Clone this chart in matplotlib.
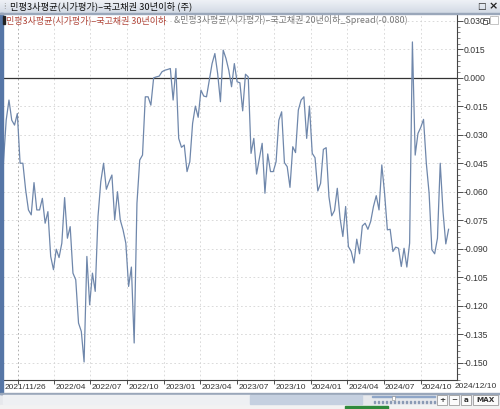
import numpy as np
import pandas as pd
import matplotlib
matplotlib.use('Agg')
from matplotlib import pyplot as plt
from matplotlib.patches import Rectangle
from matplotlib.transforms import ScaledTranslation

plt.rcParams['axes.unicode_minus'] = False
KR = ['Noto Sans CJK KR', 'DejaVu Sans']

# spread series (weekly), 2021/11/26 .. 2024/12/10
first_date = '2021-11-26'
last_date = '2024-12-10'
spread = [
    -0.0450, -0.0223, -0.0117, -0.0223, -0.0249, -0.0188, -0.0450, -0.0450, -0.0591, -0.0696,
    -0.0722, -0.0552, -0.0696, -0.0696, -0.0635, -0.0766, -0.0705, -0.0941, -0.1011, -0.0903,
    -0.0947, -0.0871, -0.0631, -0.0845, -0.0784, -0.1029, -0.1064, -0.1292, -0.1336, -0.1497,
    -0.0941, -0.1196, -0.1029, -0.1125, -0.0731, -0.0547, -0.0450, -0.0587, -0.0547, -0.0512,
    -0.0749, -0.0600, -0.0749, -0.0801, -0.0871, -0.1099, -0.0997, -0.1397, -0.0661, -0.0433,
    -0.0407, -0.0100, -0.0100, -0.0144, 0.0000,
    0.0005, 0.0009, 0.0032, 0.0040, 0.0044, 0.0049, -0.0117, 0.0049, -0.0319, -0.0366,
    -0.0354, -0.0494, -0.0442, -0.0240, -0.0149, -0.0208, -0.0065, -0.0096, -0.0100, -0.0012,
    0.0075, 0.0128, 0.0023, -0.0126, 0.0146, 0.0102, 0.0040, -0.0047, 0.0075, -0.0021,
    -0.0026, -0.0174, 0.0019, 0.0005, -0.0398, -0.0319, -0.0507, -0.0424, -0.0345, -0.0608,
    -0.0401, -0.0494, -0.0494, -0.0442, -0.0223, -0.0179, -0.0447, -0.0468, -0.0577, -0.0363,
    -0.0394, -0.0170, -0.0117, -0.0100, -0.0319, -0.0149,
    -0.0398, -0.0421, -0.0596, -0.0556, -0.0377, -0.0368, -0.0626, -0.0727, -0.0699, -0.0582,
    -0.0740, -0.0836, -0.0678, -0.0889, -0.0915, -0.0976, -0.0850, -0.0927, -0.0780, -0.0766,
    -0.0798, -0.0757, -0.0678, -0.0621, -0.0696, -0.0459, -0.0608, -0.0801, -0.0798, -0.0915,
    -0.0892, -0.0898, -0.0994, -0.0898, -0.0997, -0.0871, 0.0189, -0.0407, -0.0293, -0.0261,
    -0.0219, -0.0450, -0.0608, -0.0906, -0.0927, -0.0845, -0.0450, -0.0705, -0.0875, -0.0798,
]
dates = pd.date_range(first_date, last_date, periods=len(spread))

quarter_ticks = ['2022-01-01', '2022-04-01', '2022-07-01', '2022-10-01', '2023-01-01', '2023-04-01',
                 '2023-07-01', '2023-10-01', '2024-01-01', '2024-04-01', '2024-07-01', '2024-10-01']
quarter_labels = ['', '2022/04', '2022/07', '2022/10', '2023/01', '2023/04',
                  '2023/07', '2023/10', '2024/01', '2024/04', '2024/07', '2024/10']
y_ticks = [0.030, 0.015, 0.000, -0.015, -0.030, -0.045, -0.060, -0.075, -0.090,
           -0.105, -0.120, -0.135, -0.150]

title = '민평3사평균(시가평가)–국고채권 30년이하 (주)'
leg_main = '민평3사평균(시가평가)–국고채권 30년이하'
leg_other = '&민평3사평균(시가평가)–국고채권 20년이하_Spread(-0.080)'

W, H = 500, 409
fig = plt.figure(figsize=(W / 100, H / 100), dpi=100)
fig.patch.set_facecolor('white')

def fx(px): return px / W
def fy(py): return 1 - py / H
def rect(x0, y0, x1, y1, **kw):
    fig.patches.append(Rectangle((fx(x0), fy(y1)), (x1 - x0) / W, (y1 - y0) / H,
                                 transform=fig.transFigure, **kw))

# plot area
ax = fig.add_axes([fx(3), fy(380), (457 - 3) / W, (380 - 15) / H])
ax.plot(dates, spread, color='#6f87ab', lw=0.9, zorder=3)
ax.axhline(0, color='#333333', lw=0.9, zorder=2)
ax.set_xlim(pd.Timestamp('2021-11-25'), pd.Timestamp('2024-12-31'))
ax.set_ylim(-0.1592, 0.0331)

for t in y_ticks:
    ax.axhline(t, color='#d4d4d4', lw=0.6, ls=(0, (2, 3)), zorder=1)
for i, d in enumerate(quarter_ticks):
    ax.axvline(pd.Timestamp(d), color='#a0a0a0' if i == 0 else '#d4d4d4',
               lw=0.6, ls=(0, (2, 3)), zorder=1)

ax.yaxis.tick_right()
ax.set_yticks(y_ticks)
ax.set_yticklabels(['%.3f' % t for t in y_ticks])
ax.set_yticks(np.arange(-0.159, 0.033, 0.003), minor=True)
ax.tick_params(axis='y', which='major', direction='out', length=4, width=0.6, pad=1,
               labelsize=6.2, colors='#333333')
ax.tick_params(axis='y', which='minor', direction='out', length=2, width=0.5, colors='#555555')
for lab in ax.get_yticklabels():
    lab.set_family('Liberation Sans')

xt = [pd.Timestamp(first_date)] + [pd.Timestamp(d) for d in quarter_ticks]
ax.set_xticks(xt)
ax.set_xticklabels(['2021/11/26'] + quarter_labels)
ax.tick_params(axis='x', direction='out', length=3, width=0.6, pad=0, labelsize=6,
               colors='#333333')
off = ScaledTranslation(1.0 / 72, 0, fig.dpi_scale_trans)
for lab in ax.get_xticklabels():
    lab.set_ha('left')
    lab.set_family('Liberation Sans')
    lab.set_transform(lab.get_transform() + off)

for s in ['top', 'left']:
    ax.spines[s].set_visible(False)
ax.spines['right'].set_color('#444444')
ax.spines['bottom'].set_color('#444444')
ax.spines['right'].set_linewidth(0.8)
ax.spines['bottom'].set_linewidth(0.8)

fig.text(fx(455), fy(387), '2024/12/10', fontsize=6, family='Liberation Sans',
         color='#333333', va='center', ha='left')

# left border
rect(0, 13, 2.5, 394, color='#5676a6', zorder=5)

# title bar
tb = fig.add_axes([0, fy(13), 1, 13 / H])
tb.imshow(np.linspace(0, 1, 20).reshape(-1, 1), cmap=matplotlib.colors.LinearSegmentedColormap.from_list(
    'tb', ['#eef1f6', '#d3dae5']), aspect='auto', extent=[0, 1, 0, 1], origin='upper')
tb.set_xlim(0, 1)
tb.set_ylim(0, 1)
tb.axis('off')
rect(0, 12.5, 500, 13.5, color='#9aa7ba', zorder=5)
fig.text(fx(3), fy(6.5), '⁞', fontsize=6, color='#8a8a8a', va='center')
fig.text(fx(10), fy(6.5), title, fontsize=6.7, family=KR, color='#111111', va='center')
fig.text(fx(477), fy(6.5), '□', fontsize=6.5, color='#222222', va='center', family='DejaVu Sans')
fig.text(fx(489), fy(6.5), '×', fontsize=8, color='#222222', va='center', weight='bold')

# legend row
rect(3, 16, 5, 24, color='#222222', zorder=5)
fig.text(fx(6), fy(20), leg_main, fontsize=6.5, family=KR, color='#b2473b', va='center')
fig.text(fx(174), fy(20), leg_other, fontsize=6.5, family=KR, color='#7a7a7a', va='center')
# restore-window icon drawn as two small boxes
rect(484, 18, 488.5, 22.5, facecolor='white', edgecolor='#333333', lw=0.5, zorder=6)
rect(482.5, 19.5, 487, 24, facecolor='white', edgecolor='#333333', lw=0.5, zorder=7)
rect(490, 16, 498, 24, facecolor='white', edgecolor='#999999', lw=0.4, zorder=5)
fig.text(fx(491), fy(20), '×', fontsize=6, color='#333333', va='center', weight='bold')

# lower band lines
rect(0, 393, 500, 394, color='#9aa7ba', zorder=5)

# scrollbar row
rect(0, 394, 500, 405, color='#e6e8ec', zorder=4)
rect(3, 395, 250, 404, color='#eef0f3', zorder=5)
rect(250, 395, 362, 404, color='#c5d0e0', zorder=5)
fig.text(fx(4), fy(399.5), '<', fontsize=5.5, color='#777777', va='center')
fig.text(fx(364), fy(399.5), '>', fontsize=5.5, color='#777777', va='center')
rect(372, 396, 435, 397, color='#8fa6c8', zorder=6)
rect(392, 396, 395, 400, facecolor='white', edgecolor='#8a8a8a', lw=0.4, zorder=6)
for k in range(16):
    rect(374 + k * 4, 401, 374.8 + k * 4, 403, color='#8a9ab5', zorder=6)
for x0, x1, s in [(437, 447, '+'), (449, 459, '−'), (461, 471, 'a'), (473, 498, 'MAX')]:
    rect(x0, 395, x1, 404.5, facecolor='#fbfbfb', edgecolor='#8c8c8c', lw=0.5, zorder=6)
    fig.text(fx((x0 + x1) / 2), fy(399.8), s, fontsize=5.2, color='#333333', weight='bold',
             ha='center', va='center', zorder=7)

# cut-off bottom strip
rect(0, 405, 500, 409, color='#f2f2f2', zorder=4)
rect(345, 405.5, 388, 409, color='#2f8a3c', zorder=5)

fig.savefig('out.png', dpi=100)
